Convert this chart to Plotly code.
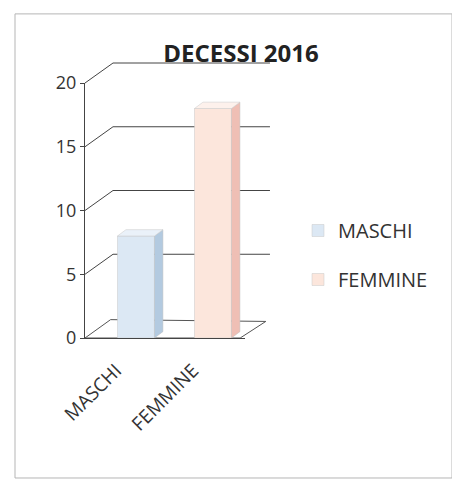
import plotly.graph_objects as go

categories = ["MASCHI", "FEMMINE"]
values = [8, 18]
colors_front = ["#dce8f4", "#fce6dc"]
colors_side = ["#b3cae0", "#efbfb5"]
colors_top = ["#eaf1f9", "#fdf1ec"]
y_ticks = [0, 5, 10, 15, 20]
title_text = "DECESSI 2016"

Y_MAX = 20
BAR_W = 0.48
DX = 0.11   # depth offset in x data units
DY = 0.5    # depth offset in y data units

fig = go.Figure()
for i, (cat, val) in enumerate(zip(categories, values)):
    fig.add_trace(go.Bar(
        x=[cat], y=[val], name=cat, width=BAR_W,
        marker=dict(color=colors_front[i], line=dict(color="#c8c8c8", width=0.5)),
        legendgroup=cat, showlegend=True,
    ))

shapes = []
# outer frame
shapes.append(dict(type="rect", xref="paper", yref="paper",
                   x0=-0.4375, x1=2.294, y0=-0.549, y1=1.271,
                   line=dict(color="#b5b5b5", width=1), layer="below"))
# floor
shapes.append(dict(type="path", xref="paper", yref="paper",
                   path="M 0,0 L 0.97,0 L 1.13,0.065 L 0.16,0.072 Z",
                   line=dict(color="#555", width=1), fillcolor="rgba(0,0,0,0)", layer="below"))
# back wall gridlines (slanted then horizontal)
for v in y_ticks:
    if v == 0:
        continue
    shapes.append(dict(type="path", xref="paper", yref="paper", ysizemode="pixel",
                       yanchor=v / Y_MAX,
                       path="M 0,0 L 0.175,20 L 1.156,20",
                       line=dict(color="#444", width=1), layer="below"))

# 3D faces of bars
for i, val in enumerate(values):
    xr = i + BAR_W / 2
    xl = i - BAR_W / 2
    shapes.append(dict(type="path", xref="x", yref="y",
                       path=f"M {xr},0 L {xr+DX},{DY} L {xr+DX},{val+DY} L {xr},{val} Z",
                       fillcolor=colors_side[i], line=dict(color="#c0c0c0", width=0.5), layer="above"))
    shapes.append(dict(type="path", xref="x", yref="y",
                       path=f"M {xl},{val} L {xr},{val} L {xr+DX},{val+DY} L {xl+DX},{val+DY} Z",
                       fillcolor=colors_top[i], line=dict(color="#c8c8c8", width=0.5), layer="above"))

fig.update_layout(
    width=452, height=478,
    margin=dict(l=77, r=215, t=75, b=148, autoexpand=False),
    paper_bgcolor="white", plot_bgcolor="white",
    barmode="overlay",
    title=dict(text=f"<b>{title_text}</b>", x=233 / 452, xanchor="center",
               y=1 - 46 / 478, yanchor="middle",
               font=dict(family="Open Sans", size=24, color="#222")),
    font=dict(family="Open Sans", color="#333"),
    xaxis=dict(categoryorder="array", categoryarray=categories,
               range=[-0.662, 1.416], showgrid=False, showline=True,
               linecolor="#444", linewidth=1, tickangle=-45,
               tickfont=dict(size=19, color="#333"), ticks="",
               ticklabelshift=-20, ticklabelstandoff=13),
    yaxis=dict(range=[0, Y_MAX], tickvals=y_ticks, showgrid=False, zeroline=False,
               showline=True, linecolor="#444", linewidth=1,
               ticks="outside", ticklen=4, tickcolor="#444",
               tickfont=dict(size=18, color="#333")),
    legend=dict(x=(290 - 77) / 160, xanchor="left", y=(330 - 203) / 255, yanchor="top",
                font=dict(size=20, color="#333"), tracegroupgap=20,
                bgcolor="rgba(0,0,0,0)", itemwidth=30),
    shapes=shapes,
)

fig.write_html("out.html")
